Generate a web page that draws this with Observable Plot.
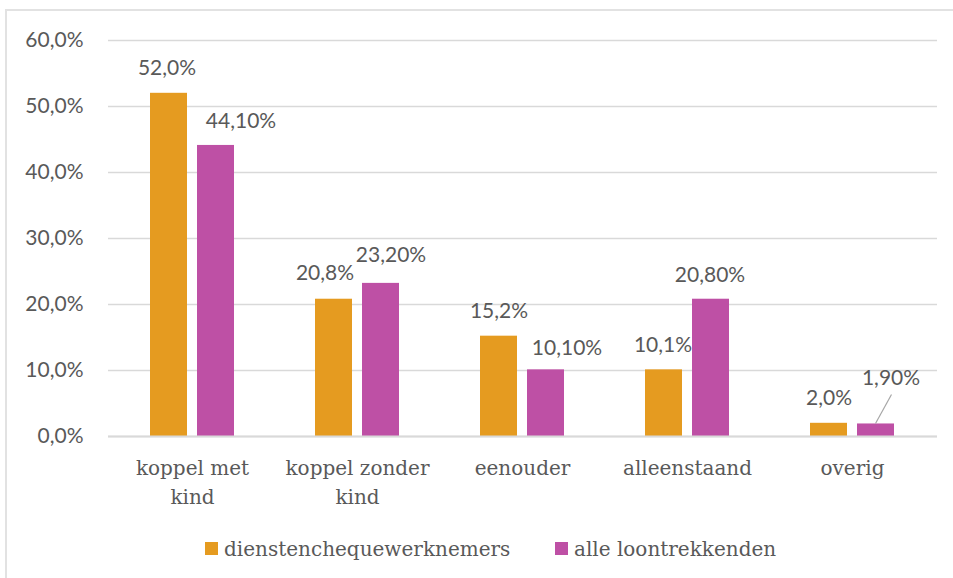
<!DOCTYPE html>
<html>
<head>
<meta charset="utf-8">
<script src="https://cdn.jsdelivr.net/npm/d3@7"></script>
<script src="https://cdn.jsdelivr.net/npm/@observablehq/plot@0.6"></script>
<style>
  body { margin: 0; background: #fff; width: 953px; height: 578px; overflow: hidden; position: relative; }
  #chart { position: absolute; left: 0; top: 0; }
  #frame { position: absolute; left: 5px; top: 9px; width: 2000px; height: 2000px;
           border-left: 2px solid #e2e2e2; border-top: 2px solid #e2e2e2; pointer-events: none; }
  .leg { position: absolute; top: 535px; height: 27px; display: flex; align-items: center;
         font-family: "DejaVu Serif", serif; font-size: 20px; color: #595959; white-space: nowrap; }
  .sw { width: 13px; height: 13px; display: inline-block; margin-right: 6px; }
</style>
</head>
<body>
<div id="chart"></div>
<div id="legend"></div>
<div id="frame"></div>
<script>
// ---- data ----
const categories = ["koppel met kind", "koppel zonder kind", "eenouder", "alleenstaand", "overig"];
const categoryLabels = ["koppel met\nkind", "koppel zonder\nkind", "eenouder", "alleenstaand", "overig"];
const seriesNames = ["dienstenchequewerknemers", "alle loontrekkenden"];
const dienstenchequeValues = [52.0, 20.8, 15.2, 10.1, 2.0];
const alleLoontrekkendenValues = [44.1, 23.2, 10.1, 20.8, 1.9];
const dienstenchequeLabels = ["52,0%", "20,8%", "15,2%", "10,1%", "2,0%"];
const alleLoontrekkendenLabels = ["44,10%", "23,20%", "10,10%", "20,80%", "1,90%"];
const yTicks = [0, 10, 20, 30, 40, 50, 60];
const yTickLabels = ["0,0%", "10,0%", "20,0%", "30,0%", "40,0%", "50,0%", "60,0%"];

// ---- style / layout ----
const colors = ["#E59B20", "#BE50A5"];
const textColor = "#595959";
const gridColor = "#d9d9d9";
const barW = 38, barGap = 9;           // px within a category group
const half = (barW + barGap) / 2;      // offset of bar centre from group centre
// manual label nudges [dx, dy] (as in the original, labels were moved by hand)
const nudgeA = [[-2, -25], [-9, -26], [0, -25], [-1, -25], [0, -25]];
const nudgeB = [[25, -24], [10, -28], [21, -22], [-1, -24], [15, -46]];

const rowsA = categories.map((c, i) => ({cat: c, value: dienstenchequeValues[i], label: dienstenchequeLabels[i], i}));
const rowsB = categories.map((c, i) => ({cat: c, value: alleLoontrekkendenValues[i], label: alleLoontrekkendenLabels[i], i}));

const sansFamily = "Lato, 'Open Sans', sans-serif";
const labelFont = {fontFamily: sansFamily, fontSize: 21, fill: textColor};

const labelMarks = [
  ...rowsA.map(r => Plot.text([r], {x: "cat", y: "value", text: "label", ...labelFont,
      dx: -half + nudgeA[r.i][0], dy: nudgeA[r.i][1]})),
  ...rowsB.map(r => Plot.text([r], {x: "cat", y: "value", text: "label", ...labelFont,
      dx: half + nudgeB[r.i][0], dy: nudgeB[r.i][1]}))
];

// leader line for the small "overig" label
const leader = (index, scales) => {
  const x = scales.x, y = scales.y;
  const bw = x.bandwidth ? x.bandwidth() : 85;
  const k = categories.length - 1;
  const cx = x(categories[k]) + bw / 2 + half;
  const ty = y(alleLoontrekkendenValues[k]);
  return d3.create("svg:line")
    .attr("x1", cx).attr("y1", ty)
    .attr("x2", cx + 16).attr("y2", ty - 29)
    .attr("stroke", "#a6a6a6").attr("stroke-width", 1.2)
    .node();
};

const chart = Plot.plot({
  width: 953,
  height: 520,
  marginLeft: 108,
  marginRight: 16,
  marginTop: 40,
  marginBottom: 84,
  style: {background: "transparent", overflow: "visible"},
  x: {domain: categories, paddingInner: 0.488, paddingOuter: 0.244, label: null},
  y: {domain: [0, 60], label: null},
  marks: [
    Plot.ruleY(yTicks, {stroke: gridColor, strokeWidth: 1.5}),
    Plot.barY(rowsA, {x: "cat", y: "value", fill: colors[0], insetRight: barW + barGap, insetLeft: 0}),
    Plot.barY(rowsB, {x: "cat", y: "value", fill: colors[1], insetLeft: barW + barGap, insetRight: 0}),
    Plot.ruleY([0], {stroke: gridColor, strokeWidth: 2}),
    ...labelMarks,
    leader,
    Plot.axisY(yTicks, {tickSize: 0, tickPadding: 25, label: null,
      tickFormat: d => yTickLabels[yTicks.indexOf(d)],
      fontSize: 21, fontFamily: sansFamily, color: textColor}),
    Plot.axisX({tickSize: 0, tickPadding: 18, label: null,
      tickFormat: d => categoryLabels[categories.indexOf(d)],
      fontSize: 20, fontFamily: "'DejaVu Serif', serif", color: textColor, lineHeight: 1.45})
  ]
});
document.getElementById("chart").appendChild(chart);

// legend
const legend = document.getElementById("legend");
const legendLeft = [205, 555];
seriesNames.forEach((name, i) => {
  const item = document.createElement("div");
  item.className = "leg";
  item.style.left = legendLeft[i] + "px";
  item.innerHTML = `<span class="sw" style="background:${colors[i]}"></span><span>${name}</span>`;
  legend.appendChild(item);
});
</script>
</body>
</html>
